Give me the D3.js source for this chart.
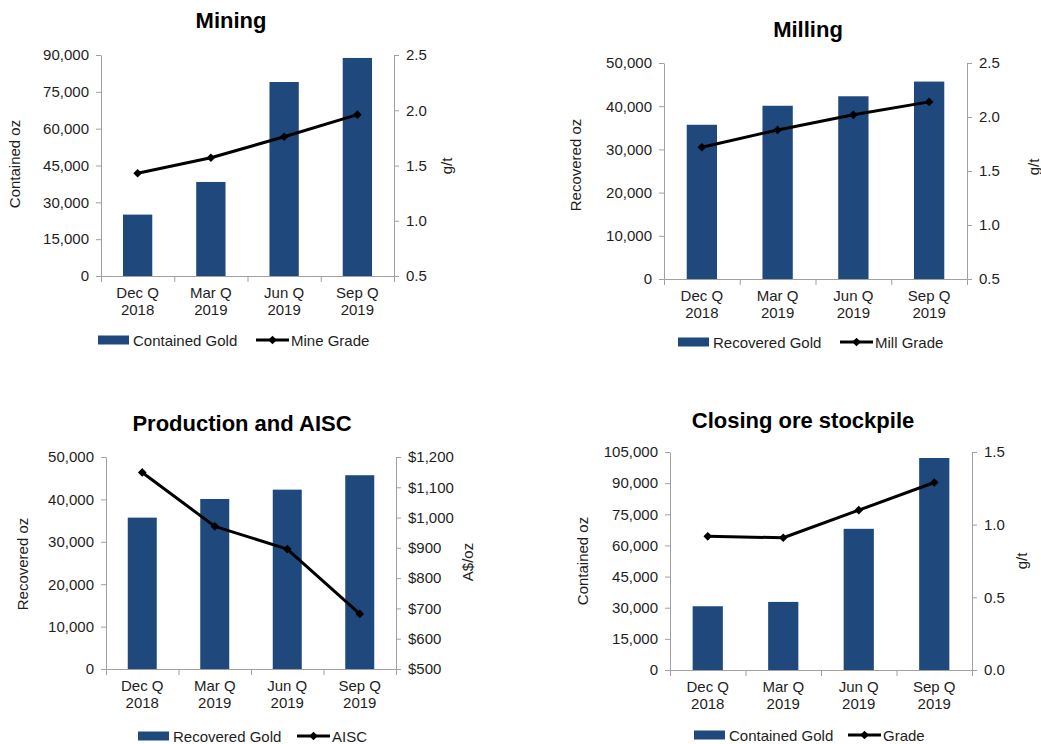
<!DOCTYPE html>
<html>
<head>
<meta charset="utf-8">
<script src="https://cdn.jsdelivr.net/npm/d3@7"></script>
<style>
  html, body { margin: 0; padding: 0; background: #fff; }
  svg { display: block; font-family: "Liberation Sans", Arial, sans-serif; }
</style>
</head>
<body>
<svg id="chart" width="1041" height="744"></svg>
<script>
// Quarter categories (two-line tick labels)
const quarters = ["Dec Q 2018", "Mar Q 2019", "Jun Q 2019", "Sep Q 2019"];
const quarterLines = [["Dec Q", "2018"], ["Mar Q", "2019"], ["Jun Q", "2019"], ["Sep Q", "2019"]];

// Mining
const miningContainedGold = [25000, 38300, 79000, 88800];
const mineGrade = [1.43, 1.57, 1.76, 1.96];
const miningOzTicks = [0, 15000, 30000, 45000, 60000, 75000, 90000];
const miningGradeTicks = [0.5, 1.0, 1.5, 2.0, 2.5];

// Milling
const millingRecoveredGold = [35700, 40100, 42300, 45700];
const millGrade = [1.72, 1.88, 2.02, 2.14];
const millingOzTicks = [0, 10000, 20000, 30000, 40000, 50000];
const millingGradeTicks = [0.5, 1.0, 1.5, 2.0, 2.5];

// Production and AISC
const productionRecoveredGold = [35700, 40100, 42300, 45700];
const aisc = [1149, 971, 896, 682];
const productionOzTicks = [0, 10000, 20000, 30000, 40000, 50000];
const aiscTicks = [500, 600, 700, 800, 900, 1000, 1100, 1200];

// Closing ore stockpile
const stockpileContainedGold = [30700, 32800, 68000, 102100];
const stockpileGrade = [0.92, 0.91, 1.10, 1.29];
const stockpileOzTicks = [0, 15000, 30000, 45000, 60000, 75000, 90000, 105000];
const stockpileGradeTicks = [0.0, 0.5, 1.0, 1.5];

const BAR = "#1F487C";
const AXIS = "#A0A0A0";
const TEXT = "#1e1e1e";
const FS = "15px";

const svg = d3.select("#chart");

function panel(cfg) {
  const g = svg.append("g");
  const x = d3.scaleBand().domain(quarters).range([cfg.left, cfg.right])
    .paddingInner(0.6).paddingOuter(0.3);
  const yL = d3.scaleLinear().domain([cfg.leftTicks[0], cfg.leftTicks[cfg.leftTicks.length - 1]])
    .range([cfg.bottom, cfg.top]);
  const yR = d3.scaleLinear().domain([cfg.rightTicks[0], cfg.rightTicks[cfg.rightTicks.length - 1]])
    .range([cfg.bottom, cfg.top]);

  // bars
  g.selectAll("rect.bar").data(cfg.bars).join("rect")
    .attr("class", "bar")
    .attr("x", (d, i) => x(quarters[i]))
    .attr("width", x.bandwidth())
    .attr("y", d => yL(d))
    .attr("height", d => yL(0) - yL(d))
    .attr("fill", BAR);

  // left axis
  const axL = g.append("g").attr("transform", `translate(${cfg.left},0)`)
    .call(d3.axisLeft(yL).tickValues(cfg.leftTicks).tickFormat(d3.format(",")).tickSize(5).tickSizeOuter(0).tickPadding(7));
  // right axis
  const axR = g.append("g").attr("transform", `translate(${cfg.right},0)`)
    .call(d3.axisRight(yR).tickValues(cfg.rightTicks).tickFormat(cfg.rightFormat).tickSize(5).tickSizeOuter(0).tickPadding(7));
  [axL, axR].forEach(a => {
    a.select(".domain").attr("stroke", AXIS);
    a.selectAll(".tick line").attr("stroke", AXIS);
    a.selectAll(".tick text").attr("fill", TEXT).style("font-size", FS).style("font-family", "Liberation Sans, Arial, sans-serif");
  });

  // bottom axis: line with ticks at category boundaries
  const step = x.step();
  const bounds = quarters.map(q => x(q) - x.paddingOuter() * step).concat([cfg.right]);
  g.append("line").attr("x1", cfg.left).attr("x2", cfg.right)
    .attr("y1", cfg.bottom + 0.5).attr("y2", cfg.bottom + 0.5).attr("stroke", AXIS);
  g.selectAll("line.bt").data(bounds).join("line").attr("class", "bt")
    .attr("x1", d => d + 0.5).attr("x2", d => d + 0.5)
    .attr("y1", cfg.bottom).attr("y2", cfg.bottom + 6).attr("stroke", AXIS);
  const lbl = g.selectAll("text.xl").data(quarterLines).join("text").attr("class", "xl")
    .attr("x", (d, i) => x(quarters[i]) + x.bandwidth() / 2)
    .attr("text-anchor", "middle").attr("fill", TEXT).style("font-size", FS);
  lbl.append("tspan").attr("x", (d, i) => x(quarters[i]) + x.bandwidth() / 2)
    .attr("y", cfg.bottom + 22).text(d => d[0]);
  lbl.append("tspan").attr("x", (d, i) => x(quarters[i]) + x.bandwidth() / 2)
    .attr("y", cfg.bottom + 39).text(d => d[1]);

  // line series
  const pts = cfg.line.map((v, i) => [x(quarters[i]) + x.bandwidth() / 2, yR(v)]);
  g.append("path").attr("d", d3.line()(pts)).attr("fill", "none")
    .attr("stroke", "#000").attr("stroke-width", 3).attr("stroke-linejoin", "round");
  const diamond = d3.symbol().type(d3.symbolDiamond2).size(48);
  g.selectAll("path.mk").data(pts).join("path").attr("class", "mk")
    .attr("transform", d => `translate(${d[0]},${d[1]})`)
    .attr("d", diamond()).attr("fill", "#000");

  // title
  g.append("text").attr("x", cfg.titleX).attr("y", cfg.titleY)
    .attr("text-anchor", "middle").attr("fill", "#000")
    .style("font-size", "22px").style("font-weight", "bold").text(cfg.title);

  // axis titles
  g.append("text").attr("transform", `translate(${cfg.yLabelX},${cfg.yLabelY}) rotate(-90)`)
    .attr("text-anchor", "middle").attr("dominant-baseline", "central")
    .attr("fill", TEXT).style("font-size", FS).text(cfg.yLabel);
  g.append("text").attr("transform", `translate(${cfg.y2LabelX},${cfg.y2LabelY}) rotate(-90)`)
    .attr("text-anchor", "middle").attr("dominant-baseline", "central")
    .attr("fill", TEXT).style("font-size", FS).text(cfg.y2Label);

  // legend
  const ly = cfg.legendY;
  g.append("rect").attr("x", cfg.legendX1).attr("y", ly - 4.5).attr("width", 31).attr("height", 9).attr("fill", BAR);
  g.append("text").attr("x", cfg.legendX1 + 35).attr("y", ly + 5.5)
    .attr("fill", TEXT).style("font-size", FS).text(cfg.barName);
  g.append("line").attr("x1", cfg.legendX2).attr("x2", cfg.legendX2 + 33)
    .attr("y1", ly).attr("y2", ly).attr("stroke", "#000").attr("stroke-width", 3);
  g.append("path").attr("transform", `translate(${cfg.legendX2 + 16.5},${ly})`)
    .attr("d", diamond()).attr("fill", "#000");
  g.append("text").attr("x", cfg.legendX2 + 35).attr("y", ly + 5.5)
    .attr("fill", TEXT).style("font-size", FS).text(cfg.lineName);
}

const gradeFmt = d3.format(".1f");
const dollarFmt = d => "$" + d3.format(",")(d);

panel({
  title: "Mining", titleX: 231, titleY: 28,
  left: 101, right: 394, top: 55, bottom: 276,
  bars: miningContainedGold, line: mineGrade,
  leftTicks: miningOzTicks, rightTicks: miningGradeTicks, rightFormat: gradeFmt,
  yLabel: "Contained oz", yLabelX: 14, yLabelY: 164,
  y2Label: "g/t", y2LabelX: 446, y2LabelY: 166,
  barName: "Contained Gold", lineName: "Mine Grade",
  legendX1: 98, legendX2: 256, legendY: 340
});

panel({
  title: "Milling", titleX: 808, titleY: 37,
  left: 664, right: 967, top: 63, bottom: 279,
  bars: millingRecoveredGold, line: millGrade,
  leftTicks: millingOzTicks, rightTicks: millingGradeTicks, rightFormat: gradeFmt,
  yLabel: "Recovered oz", yLabelX: 575, yLabelY: 165,
  y2Label: "g/t", y2LabelX: 1033, y2LabelY: 167,
  barName: "Recovered Gold", lineName: "Mill Grade",
  legendX1: 678, legendX2: 840, legendY: 342
});

panel({
  title: "Production and AISC", titleX: 242, titleY: 431,
  left: 106, right: 396, top: 457, bottom: 669,
  bars: productionRecoveredGold, line: aisc,
  leftTicks: productionOzTicks, rightTicks: aiscTicks, rightFormat: dollarFmt,
  yLabel: "Recovered oz", yLabelX: 22, yLabelY: 564,
  y2Label: "A$/oz", y2LabelX: 467, y2LabelY: 562,
  barName: "Recovered Gold", lineName: "AISC",
  legendX1: 138, legendX2: 297, legendY: 736
});

panel({
  title: "Closing ore stockpile", titleX: 803, titleY: 428,
  left: 670, right: 972, top: 452, bottom: 670,
  bars: stockpileContainedGold, line: stockpileGrade,
  leftTicks: stockpileOzTicks, rightTicks: stockpileGradeTicks, rightFormat: gradeFmt,
  yLabel: "Contained oz", yLabelX: 582, yLabelY: 561,
  y2Label: "g/t", y2LabelX: 1021, y2LabelY: 561,
  barName: "Contained Gold", lineName: "Grade",
  legendX1: 694, legendX2: 848, legendY: 735
});
</script>
</body>
</html>
